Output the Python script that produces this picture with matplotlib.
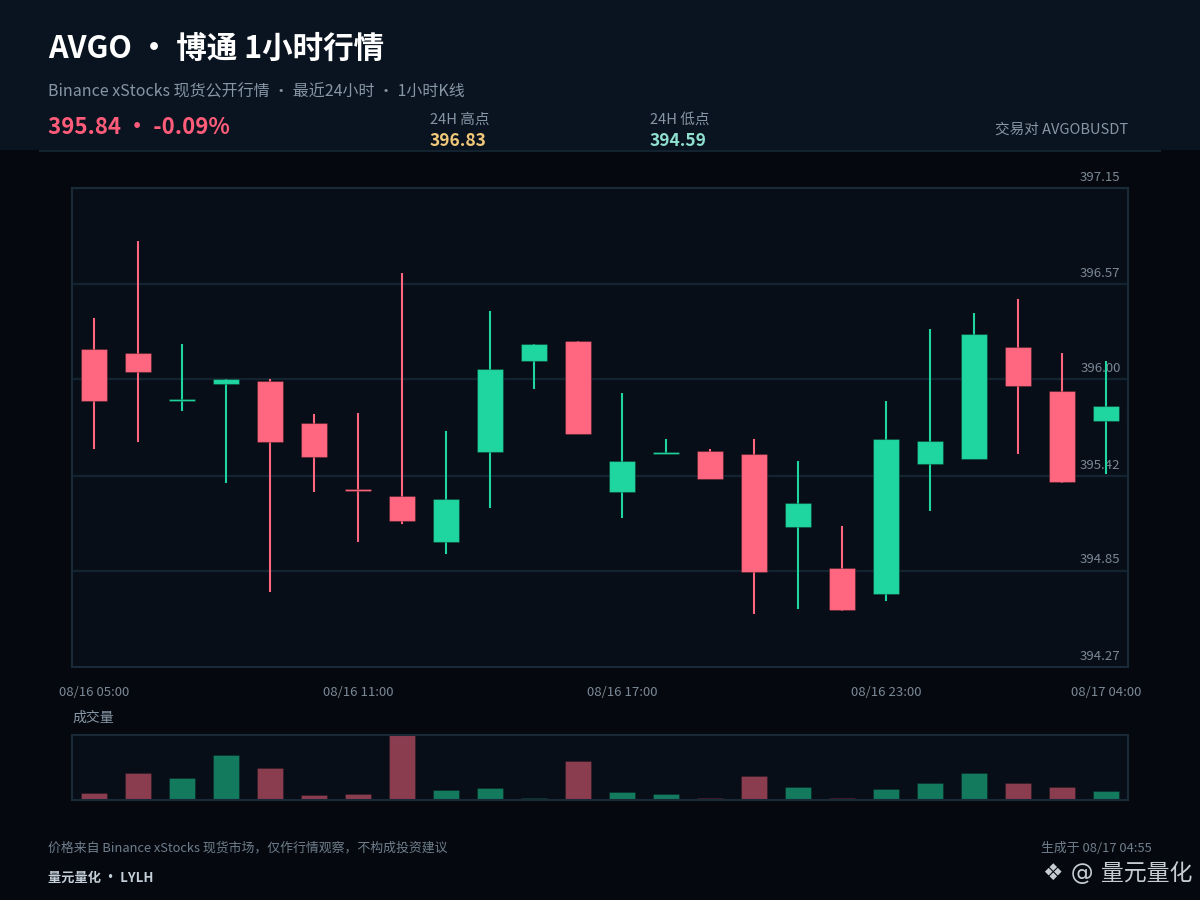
import matplotlib
matplotlib.use("Agg")
import matplotlib.pyplot as plt
from matplotlib.patches import Rectangle
from matplotlib.lines import Line2D
import matplotlib.transforms as mtransforms
import numpy as np

plt.rcParams['font.family'] = ['Noto Sans CJK SC', 'DejaVu Sans']

# ---------------- data ----------------
times = ["08/16 05:00", "08/16 06:00", "08/16 07:00", "08/16 08:00", "08/16 09:00", "08/16 10:00",
         "08/16 11:00", "08/16 12:00", "08/16 13:00", "08/16 14:00", "08/16 15:00", "08/16 16:00",
         "08/16 17:00", "08/16 18:00", "08/16 19:00", "08/16 20:00", "08/16 21:00", "08/16 22:00",
         "08/16 23:00", "08/17 00:00", "08/17 01:00", "08/17 02:00", "08/17 03:00", "08/17 04:00"]
opens = [396.18, 396.16, 395.872, 395.974, 395.99, 395.74, 395.338, 395.30, 395.02, 395.562, 396.112, 396.23,
         395.32, 395.554, 395.57, 395.55, 395.11, 394.868, 394.71, 395.492, 395.522, 396.192, 395.93, 395.752]
highs = [396.37, 396.83, 396.21, 396.003, 396.00, 395.79, 395.80, 396.64, 395.69, 396.41, 396.215, 396.232,
         395.92, 395.64, 395.58, 395.64, 395.51, 395.12, 395.87, 396.30, 396.40, 396.48, 396.16, 396.11]
lows = [395.58, 395.62, 395.81, 395.378, 394.72, 395.32, 395.02, 395.13, 394.95, 395.228, 395.94, 395.668,
        395.168, 395.552, 395.398, 394.59, 394.62, 394.605, 394.668, 395.21, 395.52, 395.552, 395.378, 395.43]
closes = [395.872, 396.042, 395.876, 396.00, 395.622, 395.532, 395.334, 395.15, 395.28, 396.062, 396.212, 395.67,
          395.51, 395.558, 395.40, 394.84, 395.258, 394.61, 395.638, 395.63, 396.27, 395.962, 395.382, 395.84]
volumes = [22, 81, 65, 135, 95, 14, 17, 195, 30, 35, 6, 119,
           23, 17, 6, 71, 40, 6, 33, 50, 80, 52, 40, 27]
price_ticks = [394.27, 394.85, 395.42, 396.00, 396.57, 397.15]
xtick_idx = [0, 6, 12, 18, 23]

last_price = 395.84
change_pct = -0.09
high_24h = 396.83
low_24h = 394.59

# ---------------- style ----------------
BG = "#05090f"
HEADER_BG = "#0a1420"
PLOT_BG = "#070e18"
FRAME = "#1a2a38"
GRID = "#142330"
UP = "#20d6a0"
DOWN = "#ff6680"
UP_V = "#137a5e"
DOWN_V = "#8b3d50"
GREY = "#8796a5"
TICK = "#7b8896"

W, H = 1200, 900
fig = plt.figure(figsize=(12, 9), dpi=100, facecolor=BG)

def fx(px):
    return px / W

def fy(py):
    return 1 - py / H

# header background
fig.patches.append(Rectangle((0, fy(150)), 1, 150 / H, transform=fig.transFigure,
                             facecolor=HEADER_BG, edgecolor='none', zorder=0))
fig.lines.append(Line2D([fx(40), fx(1160)], [fy(151), fy(151)], transform=fig.transFigure,
                        color="#13222f", linewidth=1.5, zorder=1))

# header texts
fig.text(fx(48), fy(49), "AVGO • 博通 1小时行情", fontsize=22, fontweight='bold',
         color="#ffffff", va='center', ha='left')
fig.text(fx(48), fy(92), "Binance xStocks 现货公开行情 • 最近24小时 • 1小时K线", fontsize=11.5,
         color=GREY, va='center', ha='left')
fig.text(fx(48), fy(128), f"{last_price:.2f} • {change_pct:.2f}%", fontsize=16, fontweight='bold',
         color="#ff5c7a", va='center', ha='left')
fig.text(fx(430), fy(120), "24H 高点", fontsize=10.5, color=GREY, va='center', ha='left')
fig.text(fx(430), fy(141), f"{high_24h:.2f}", fontsize=12.5, fontweight='bold', color="#f2c879",
         va='center', ha='left')
fig.text(fx(650), fy(120), "24H 低点", fontsize=10.5, color=GREY, va='center', ha='left')
fig.text(fx(650), fy(141), f"{low_24h:.2f}", fontsize=12.5, fontweight='bold', color="#8fe0cf",
         va='center', ha='left')
fig.text(fx(1128), fy(130), "交易对 AVGOBUSDT", fontsize=10.5, color=GREY, va='center', ha='right')

# ---------------- main axes ----------------
ax = fig.add_axes([fx(72), fy(667), fx(1128) - fx(72), fy(188) - fy(667)])
ax.set_facecolor(PLOT_BG)
n = len(opens)
x = np.arange(n)
ax.set_xlim(-0.5, n - 0.5)
ax.set_ylim(price_ticks[0], price_ticks[-1])
for s in ax.spines.values():
    s.set_color(FRAME)
    s.set_linewidth(1.5)
ax.set_yticks([])
ax.set_xticks(xtick_idx)
ax.set_xticklabels([times[i] for i in xtick_idx], color=TICK, fontsize=9.5)
ax.tick_params(axis='x', length=0, pad=14)

for v in price_ticks[1:-1]:
    ax.axhline(v, color=GRID, linewidth=1.6, zorder=0)

trans = mtransforms.blended_transform_factory(ax.transAxes, ax.transData)
for v in price_ticks:
    ax.annotate(f"{v:.2f}", xy=(0.993, v), xycoords=trans, xytext=(0, 3), textcoords='offset points',
                ha='right', va='bottom', fontsize=9.5, color=TICK, annotation_clip=False, zorder=1)

body_w = 0.58
for i in range(n):
    o, h, l, c = opens[i], highs[i], lows[i], closes[i]
    col = UP if c >= o else DOWN
    ax.vlines(x[i], l, h, color=col, linewidth=1.5, zorder=2)
    bottom = min(o, c)
    height = max(abs(c - o), 0.014)
    if abs(c - o) < 0.014:
        bottom = (o + c) / 2 - 0.007
    ax.bar(x[i], height, bottom=bottom, width=body_w, color=col,
           edgecolor=(0, 0, 0, 0.25), linewidth=0.8, zorder=3)

# ---------------- volume axes ----------------
vax = fig.add_axes([fx(72), fy(800), fx(1128) - fx(72), fy(735) - fy(800)])
vax.set_facecolor(PLOT_BG)
for s in vax.spines.values():
    s.set_color(FRAME)
    s.set_linewidth(1.5)
vax.set_xlim(-0.5, n - 0.5)
vax.set_ylim(0, max(volumes) * 1.005)
vax.set_xticks([])
vax.set_yticks([])
vcols = [UP_V if closes[i] >= opens[i] else DOWN_V for i in range(n)]
vax.bar(x, volumes, width=body_w, color=vcols, edgecolor=(0, 0, 0, 0.25), linewidth=0.6, zorder=2)

fig.text(fx(72), fy(718), "成交量", fontsize=10, color=GREY, va='center', ha='left')

# ---------------- footer ----------------
fig.text(fx(48), fy(848), "价格来自 Binance xStocks 现货市场，仅作行情观察，不构成投资建议", fontsize=9.3,
         color="#6f7e8c", va='center', ha='left')
fig.text(fx(48), fy(878), "量元量化 • LYLH", fontsize=9.5, fontweight='bold',
         color="#c5cfd9", va='center', ha='left')
fig.text(fx(1152), fy(848), "生成于 08/17 04:55", fontsize=9.3, color="#6f7e8c", va='center', ha='right')
fig.text(fx(1192), fy(874), "❖ @ 量元量化", fontsize=16.5, color="#dde3ea", va='center', ha='right',
         family=['DejaVu Sans', 'Noto Sans CJK SC'], alpha=0.9)

fig.savefig("out.png", dpi=100, facecolor=BG)
